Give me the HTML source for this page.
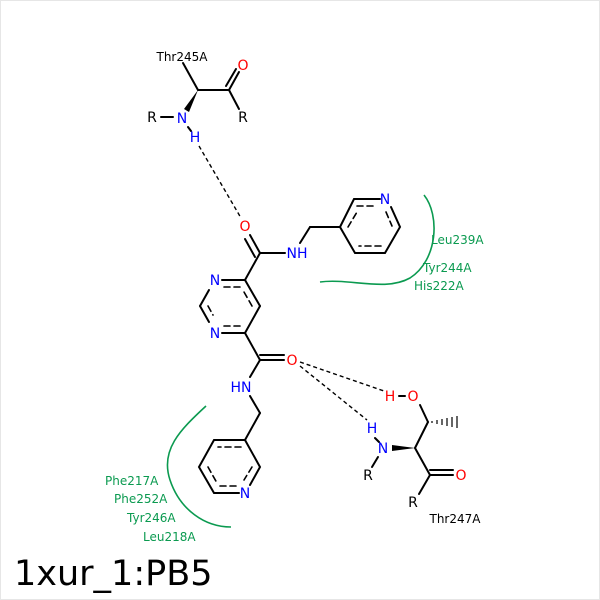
<!DOCTYPE html>
<html><head><meta charset="utf-8"><style>
html,body{margin:0;padding:0;background:#fff;}
svg{display:block;}
text{font-family:"DejaVu Sans","Liberation Sans",sans-serif;}
</style></head><body>
<svg width="600" height="600" viewBox="0 0 600 600" xmlns="http://www.w3.org/2000/svg">
<rect x="0.5" y="0.5" width="599" height="599" fill="#fff" stroke="#e6e6e6"/>
<g stroke="#000" stroke-width="2" fill="none" stroke-linecap="round">
<line x1="183" y1="63" x2="198" y2="90"/>
<line x1="198" y1="90" x2="229" y2="90"/>
<line x1="229" y1="90" x2="239" y2="72"/>
<line x1="226" y1="86" x2="236" y2="69"/>
<line x1="229" y1="90" x2="239" y2="109"/>
<line x1="161" y1="117" x2="173" y2="117"/>
<line x1="188" y1="127" x2="191" y2="131"/>
<line x1="260" y1="253" x2="250" y2="235"/>
<line x1="255" y1="257" x2="245" y2="239"/>
<line x1="260" y1="253" x2="285" y2="253"/>
<line x1="300" y1="243" x2="310" y2="227"/>
<line x1="310" y1="227" x2="340" y2="227"/>
<polyline points="340,227 354,199 380,199"/>
<polyline points="391,207 400,227 385,253 355,253 340,227"/>
<g stroke-dasharray="6,4" stroke-width="1.6">
<line x1="357" y1="206" x2="377" y2="206"/>
<line x1="386" y1="212" x2="392" y2="226"/>
<line x1="381" y1="246" x2="359" y2="246"/>
<line x1="348" y1="227" x2="357" y2="212"/>
</g>
<line x1="245" y1="280" x2="260" y2="253"/>
<line x1="245" y1="280" x2="222" y2="280"/>
<line x1="209" y1="290" x2="200" y2="306"/>
<line x1="200" y1="306" x2="209" y2="322"/>
<line x1="222" y1="333" x2="245" y2="333"/>
<line x1="245" y1="333" x2="260" y2="306"/>
<line x1="260" y1="306" x2="245" y2="280"/>
<g stroke-dasharray="6,4" stroke-width="1.6">
<line x1="224" y1="287" x2="241" y2="287"/>
<line x1="208" y1="306" x2="213" y2="315"/>
<line x1="224" y1="326" x2="241" y2="326"/>
<line x1="252" y1="306" x2="244" y2="292"/>
</g>
<line x1="245" y1="333" x2="260" y2="360"/>
<line x1="260" y1="360" x2="284" y2="360"/>
<line x1="260" y1="355" x2="284" y2="355"/>
<line x1="260" y1="360" x2="250" y2="377"/>
<line x1="250" y1="396" x2="260" y2="413"/>
<line x1="260" y1="413" x2="245" y2="440"/>
<polyline points="245,440 214,440 199,467 214,493 239,493"/>
<polyline points="250,485 260,467 245,440"/>
<g stroke-dasharray="6,4" stroke-width="1.6">
<line x1="241" y1="447" x2="218" y2="447"/>
<line x1="208" y1="467" x2="217" y2="483"/>
<line x1="220" y1="486" x2="238" y2="486"/>
<line x1="252" y1="467" x2="244" y2="480"/>
</g>
<line x1="399" y1="396" x2="405" y2="396"/>
<line x1="420" y1="405" x2="428" y2="422"/>
<line x1="428" y1="422" x2="415" y2="448"/>
<line x1="415" y1="448" x2="430" y2="475"/>
<line x1="430" y1="475" x2="453" y2="475"/>
<line x1="430" y1="470" x2="453" y2="470"/>
<line x1="430" y1="475" x2="419" y2="494"/>
<line x1="378" y1="457" x2="372" y2="467"/>
<line x1="375" y1="438" x2="379" y2="442"/>
</g>
<polygon points="198,90 184,109 189,112" fill="#000"/>
<polygon points="415,448 392,445 392,451" fill="#000"/>
<g stroke="#000" stroke-width="1.2">
<line x1="432" y1="421" x2="432" y2="423"/>
<line x1="437" y1="420" x2="437" y2="424"/>
<line x1="442" y1="419" x2="442" y2="425"/>
<line x1="447" y1="418" x2="447" y2="426"/>
<line x1="452" y1="417" x2="452" y2="427"/>
<line x1="457" y1="416" x2="457" y2="428"/>
</g>
<g stroke="#000" stroke-width="1.4" stroke-dasharray="4,3" fill="none">
<line x1="199" y1="146" x2="241" y2="218"/>
<line x1="300" y1="362" x2="384" y2="391"/>
<line x1="300" y1="366" x2="367" y2="420"/>
</g>
<g stroke="#0b9a50" stroke-width="1.6" fill="none">
<path d="M424,195 C440,215 438,260 410,278 C385,292 350,278 320,282"/>
<path d="M206,406 C180,430 160,450 170,480 C180,510 205,527 231,527"/>
</g>
<g font-size="14">
<text x="182" y="61" text-anchor="middle" font-size="12" fill="#000">Thr245A</text>
<text x="243" y="70" text-anchor="middle" fill="#f00">O</text>
<text x="243" y="122" text-anchor="middle" fill="#000">R</text>
<text x="152" y="122" text-anchor="middle" fill="#000">R</text>
<text x="182" y="123" text-anchor="middle" fill="#00f">N</text>
<text x="195" y="142" text-anchor="middle" fill="#00f">H</text>
<text x="245" y="231" text-anchor="middle" fill="#f00">O</text>
<text x="297" y="258" text-anchor="middle" fill="#00f">NH</text>
<text x="385" y="204" text-anchor="middle" fill="#00f">N</text>
<text x="215" y="285" text-anchor="middle" fill="#00f">N</text>
<text x="215" y="338" text-anchor="middle" fill="#00f">N</text>
<text x="292" y="365" text-anchor="middle" fill="#f00">O</text>
<text x="241" y="392" text-anchor="middle" fill="#00f">HN</text>
<text x="245" y="498" text-anchor="middle" fill="#00f">N</text>
<text x="390" y="401" text-anchor="middle" fill="#f00">H</text>
<text x="413" y="401" text-anchor="middle" fill="#f00">O</text>
<text x="372" y="433" text-anchor="middle" fill="#00f">H</text>
<text x="383" y="453" text-anchor="middle" fill="#00f">N</text>
<text x="368" y="480" text-anchor="middle" fill="#000">R</text>
<text x="461" y="480" text-anchor="middle" fill="#f00">O</text>
<text x="413" y="507" text-anchor="middle" fill="#000">R</text>
<text x="455" y="523" text-anchor="middle" font-size="12" fill="#000">Thr247A</text>
</g>
<g font-size="12" fill="#0b9a50">
<text x="431" y="244">Leu239A</text>
<text x="423" y="272">Tyr244A</text>
<text x="414" y="290">His222A</text>
<text x="105" y="485">Phe217A</text>
<text x="114" y="503">Phe252A</text>
<text x="127" y="522">Tyr246A</text>
<text x="143" y="541">Leu218A</text>
</g>
<text x="14" y="585" font-size="35" fill="#000">1xur_1:PB5</text>
</svg>
</body></html>
